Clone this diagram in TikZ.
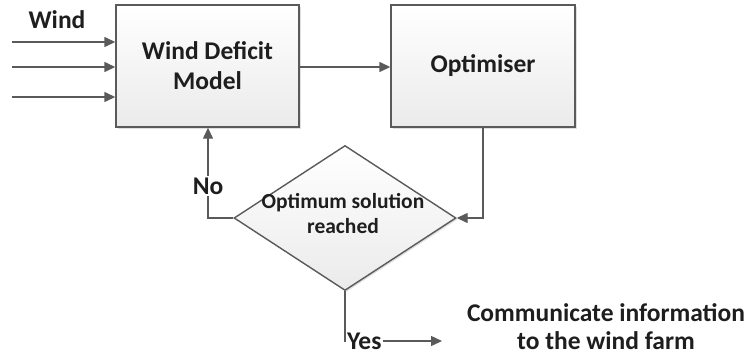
\documentclass[tikz,border=0pt]{standalone}
\usepackage{fontspec}
\setmainfont{Carlito}
\usetikzlibrary{arrows.meta,shapes.geometric,shadows}
\definecolor{linegray}{HTML}{5A5A5A}
\definecolor{txt}{HTML}{1E1E1E}
\begin{document}
\begin{tikzpicture}[x=1pt,y=-1pt,
  font=\bfseries\fontsize{25.5}{30}\selectfont, text=txt,
  line/.style={draw=linegray, line width=1.4pt},
  arr/.style={line, -{Triangle[length=11pt,width=10pt]}},
  blockbox/.style={draw=linegray, line width=1.4pt, top color=white, bottom color=black!8,
     drop shadow={shadow xshift=1.5pt, shadow yshift=-1.5pt, opacity=0.25}, inner sep=0pt, align=center},
  lbl/.style={inner sep=1pt, align=center}]
\useasboundingbox (0,0) rectangle (751,359);
% boxes
\node[blockbox, minimum width=183pt, minimum height=122pt] (wdm) at (207.5,66) {Wind Deficit\\Model};
\node[blockbox, minimum width=184pt, minimum height=122pt] (opt) at (483,66) {Optimiser};
% diamond
\node[blockbox, diamond, minimum width=222pt, minimum height=145pt, aspect=1.53] (dia) at (345,218) {};
\node[lbl, font=\bfseries\fontsize{21.5}{25}\selectfont] (diatxt) at (343,214) {Optimum solution\\reached};
% input arrows
\node[lbl] (wind) at (57,20) {Wind};
\coordinate (in1) at (12,42);
\coordinate (in2) at (12,67);
\coordinate (in3) at (12,97);
\draw[arr] (in1) -- (wdm.west |- in1);
\draw[arr] (in2) -- (wdm.west |- in2);
\draw[arr] (in3) -- (wdm.west |- in3);
% model -> optimiser
\draw[arr] (wdm.east |- in2) -- (opt.west |- in2);
% optimiser -> diamond
\draw[arr] (opt.south) |- (dia.east);
% No loop
\node[lbl] (no) at (208,186) {No};
\draw[line] (dia.west) -| (no.south);
\draw[arr] (no.north) -- (wdm.south -| no.north);
% Yes
\node[lbl, anchor=west] (yes) at (346,341) {Yes};
\draw[line] (dia.south) |- (yes.west);
\coordinate (yesend) at (442,341);
\draw[arr] (yes.east) -- (yesend);
\node[lbl, font=\bfseries\fontsize{25.5}{28}\selectfont] (comm) at (606,327) {Communicate information\\to the wind farm};
\end{tikzpicture}
\end{document}
